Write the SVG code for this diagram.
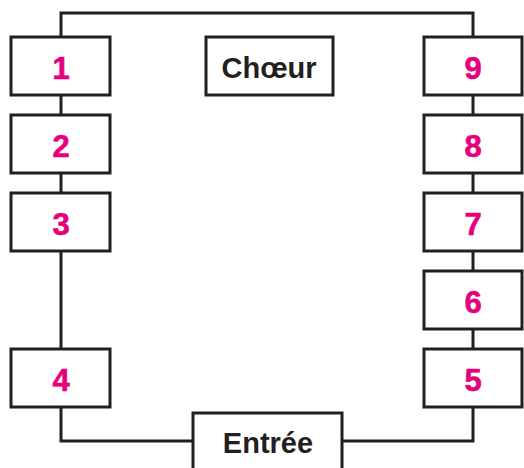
<svg xmlns="http://www.w3.org/2000/svg" width="524" height="468" viewBox="0 0 524 468">
<style>
.box{fill:#fff;stroke:#231f20;stroke-width:3}
.num{font-family:"Liberation Sans",Arial,sans-serif;font-weight:bold;font-size:31px;fill:#e6007e;text-anchor:middle;stroke:#e6007e;stroke-width:0.6}
.lbl{font-family:"Liberation Sans",Arial,sans-serif;font-weight:bold;font-size:29px;fill:#231f20;text-anchor:middle}
.con{fill:none;stroke:#231f20;stroke-width:3}
</style>
<g id="connectors">
<path class="con" d="M61,37 V13 H473 V37"/>
<path class="con" d="M61,95 V115 M61,173 V193 M61,251 V349"/>
<path class="con" d="M61,407 V441 H193"/>
<path class="con" d="M473,95 V115 M473,173 V193 M473,251 V271 M473,329 V349"/>
<path class="con" d="M473,407 V441 H342"/>
</g>
<g id="n1"><rect class="box" x="11" y="37" width="99" height="58"/><text class="num" x="61" y="79">1</text></g>
<g id="n2"><rect class="box" x="11" y="115" width="99" height="58"/><text class="num" x="61" y="157">2</text></g>
<g id="n3"><rect class="box" x="11" y="193" width="99" height="58"/><text class="num" x="61" y="235">3</text></g>
<g id="n4"><rect class="box" x="11" y="349" width="99" height="58"/><text class="num" x="61" y="391">4</text></g>
<g id="n9"><rect class="box" x="424" y="37" width="98" height="58"/><text class="num" x="473" y="79">9</text></g>
<g id="n8"><rect class="box" x="424" y="115" width="98" height="58"/><text class="num" x="473" y="157">8</text></g>
<g id="n7"><rect class="box" x="424" y="193" width="98" height="58"/><text class="num" x="473" y="235">7</text></g>
<g id="n6"><rect class="box" x="424" y="271" width="98" height="58"/><text class="num" x="473" y="313">6</text></g>
<g id="n5"><rect class="box" x="424" y="349" width="98" height="58"/><text class="num" x="473" y="391">5</text></g>
<g id="choeur"><rect class="box" x="206" y="37" width="127" height="58"/><text class="lbl" x="269" y="78">Chœur</text></g>
<g id="entree"><rect class="box" x="193" y="413" width="149" height="70"/><text class="lbl" x="268" y="453">Entrée</text></g>
</svg>
